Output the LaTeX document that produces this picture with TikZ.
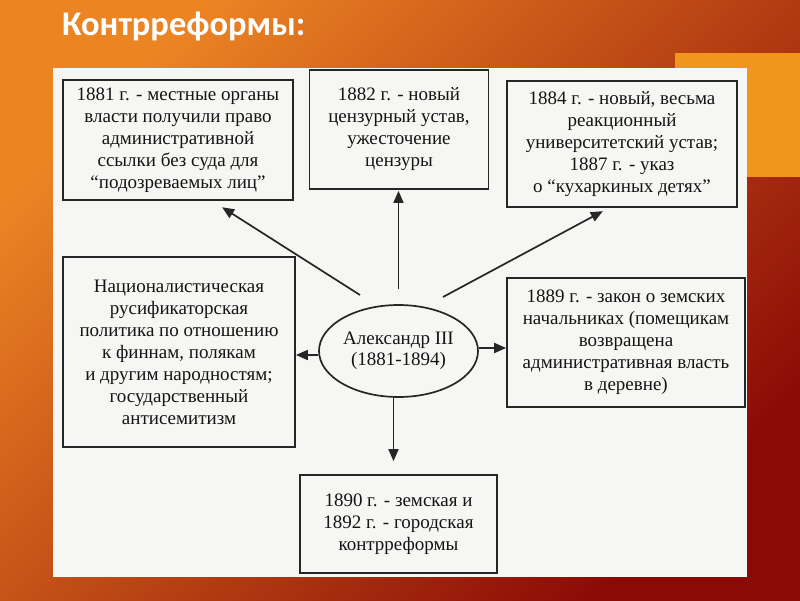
\documentclass[tikz,border=0pt]{standalone}
\usepackage{fontspec}
\setmainfont{Liberation Serif}
\newfontfamily\titlefont{Carlito}
\usetikzlibrary{shapes.geometric,arrows.meta,calc}
\definecolor{bgA}{HTML}{EC8424}
\definecolor{bgB}{HTML}{D04814}
\definecolor{bgC}{HTML}{8C0A06}
\definecolor{sq}{HTML}{F0961A}
\definecolor{paper}{HTML}{F6F6F4}
\definecolor{ink}{HTML}{141414}
\definecolor{frame}{HTML}{262626}
\tikzset{
  box/.style={draw=frame, line width=1.7pt, fill=paper, align=center, inner sep=0pt,
    text=ink, font=\fontsize{19}{22}\selectfont},
  oval/.style={ellipse, draw=frame, line width=1.7pt, align=center, inner sep=0pt,
    text=ink, font=\fontsize{19}{21}\selectfont},
  arr/.style={draw=frame, line width=1.7pt, -{Triangle[length=12pt,width=10pt]}},
}
\begin{document}
\begin{tikzpicture}[x=1pt,y=-1pt]
\useasboundingbox (0,0) rectangle (800,600);
\shade[top color=bgA, middle color=bgB, bottom color=bgC, shading angle=45] (0,0) rectangle (800,600);
\fill[sq] (675,53) rectangle (800,177);
\node[anchor=base west, text=white, font=\titlefont\bfseries\fontsize{34.5}{36}\selectfont, inner sep=0pt] (title) at (62,35) {Контрреформы:};
\fill[paper] (53,68) rectangle (747,577);

\node[box, minimum width=230pt, minimum height=120pt] (b1) at (178,140)
  {1881 г. - местные органы\\власти получили право\\административной\\ссылки без суда для\\“подозреваемых лиц”};
\node[box, minimum width=179pt, minimum height=119pt] (b2) at (399,129.5)
  {1882 г. - новый\\цензурный устав,\\ужесточение\\цензуры};
\node[box, minimum width=230pt, minimum height=126pt] (b3) at (622,144)
  {1884 г. - новый, весьма\\реакционный\\университетский устав;\\1887 г. - указ\\о “кухаркиных детях”};
\node[box, minimum width=232pt, minimum height=190pt] (b4) at (179,352)
  {Националистическая\\русификаторская\\политика по отношению\\к финнам, полякам\\и другим народностям;\\государственный\\антисемитизм};
\node[box, minimum width=238pt, minimum height=129pt] (b5) at (626,342.5)
  {1889 г. - закон о земских\\начальниках (помещикам\\возвращена\\административная власть\\в деревне)};
\node[box, minimum width=197pt, minimum height=98pt] (b6) at (398.5,524)
  {1890 г. - земская и\\1892 г. - городская\\контрреформы};
\node[oval, minimum width=159pt, minimum height=92pt] (ell) at (398.5,351)
  {Александр III\\(1881-1894)};

\coordinate (s1) at (360,295);
\coordinate (s3) at (443,297);
\draw[arr, shorten >=12pt] (s1) -- ($(b1.south)+(34,0)$);
\draw[arr, shorten <=15pt, shorten >=1pt] (ell.north) -- (ell.north |- b2.south);
\draw[arr, shorten >=7pt] (s3) -- ($(b3.south)+(-13,0)$);
\draw[arr] ($(ell.west)+(0,4)$) -- ($(ell.west -| b4.east)+(0,4)$);
\draw[arr] ($(ell.east)+(0,-3)$) -- ($(ell.east -| b5.west)+(0,-3)$);
\draw[arr, shorten >=13pt] ($(ell.south)+(-5,0)$) -- ($(b6.north)+(-5,0)$);
\end{tikzpicture}
\end{document}
